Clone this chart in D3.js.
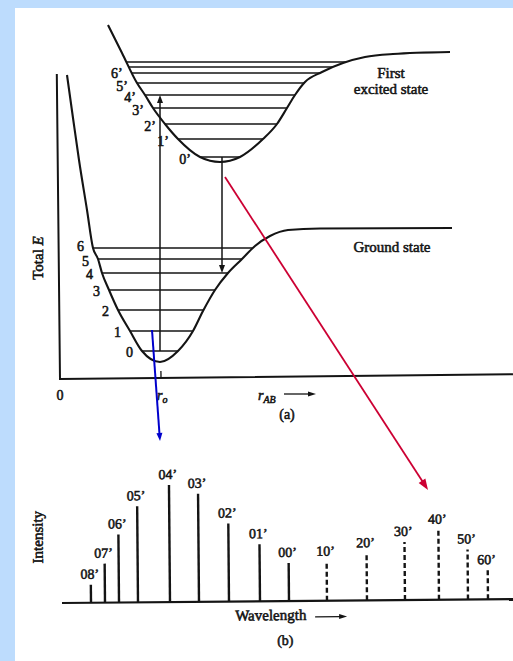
<!DOCTYPE html>
<html><head><meta charset="utf-8">
<script src="https://cdn.jsdelivr.net/npm/d3@7"></script>
<style>html,body{margin:0;padding:0;background:#bddcfd;overflow:hidden}</style>
</head><body>
<svg id="c" width="513" height="661"></svg>
<script>
// ---------- data (arbitrary units) ----------
// (a) potential energy curves: internuclear distance r, total energy E
const groundCurveR  = [7,13,19,27,33,38,42,49,58,70,82,100,118,133,143,155,168,182,195,210,228,260,392];
const groundCurveE  = [304,261,219,169,131,120,106,89,69,48,28,17,28,48,68,89,106,120,133,143,149,150.5,151];
const excitedCurveR = [48,62,77,85,93,105,118,140,160,180,203,217,227,235,245,262,283,305,333,390];
const excitedCurveE = [354,326,296,284,271,255,240,222,217,222,240,255,271,284,297,307,316,322,325,327];
const groundLevels  = [28,48,69,89,106,120,131];
const groundLabels  = ["0","1","2","3","4","5","6"];
const excitedLevels = [222,240,255,271,284,296,306,312,317];
const excitedLabels = ["0’","1’","2’","3’","4’","5’","6’","",""];
const absorptionR = 100, absorptionFrom = 28, absorptionTo = 284;
const emissionR = 162, emissionFrom = 222, emissionTo = 106;
const rZero = 101;
// (b) spectrum
const lineLabels  = ["08’","07’","06’","05’","04’","03’","02’","01’","00’","10’","20’","30’","40’","50’","60’"];
const linePos     = [29,43,57,76,108,137,167,198,227,265,305,343,377,406,426];
const lineInt     = [18,39,68,96,117,108,78,57,38,39,47,58,70,50,29];
const lineDashed  = [0,0,0,0,0,0,0,0,0,1,1,1,1,1,1];

// ---------- drawing ----------
const svg = d3.select("#c");
svg.append("rect").attr("width",513).attr("height",661).attr("fill","#bddcfd");
svg.append("rect").attr("x",15).attr("y",8).attr("width",498).attr("height",653).attr("fill","#ffffff");

const ink = "#141414";
const FONT = "'Liberation Serif','Times New Roman',serif";

function text(g, x, y, s, size, anchor) {
  return g.append("text").attr("x",x).attr("y",y).text(s)
    .attr("font-family",FONT).attr("font-size",size).attr("fill",ink)
    .attr("stroke",ink).attr("stroke-width",0.55)
    .attr("text-anchor",anchor||"start");
}
function arrow(g, x1, y1, x2, y2, color, w, hl, hw) {
  const a = Math.atan2(y2-y1, x2-x1);
  const bx = x2 - hl*Math.cos(a), by = y2 - hl*Math.sin(a);
  g.append("line").attr("x1",x1).attr("y1",y1).attr("x2",bx+Math.cos(a)).attr("y2",by+Math.sin(a))
    .attr("stroke",color).attr("stroke-width",w);
  const px = -Math.sin(a)*hw/2, py = Math.cos(a)*hw/2;
  g.append("path").attr("d",`M${x2},${y2}L${bx+px},${by+py}L${bx-px},${by-py}Z`).attr("fill",color);
}

// ----- panel (a)
const x = d3.scaleLinear().domain([0,453]).range([60,513]);
const y = d3.scaleLinear().domain([0,360]).range([379,19]);
const ga = svg.append("g");

const axes = ga.append("g").attr("transform",`rotate(-0.6,${x(0)},${y(0)})`);
axes.append("path").attr("d",`M${x(0)},${y(305)}V${y(0)}H${x(453)}`)
  .attr("fill","none").attr("stroke",ink).attr("stroke-width",2);
axes.append("line").attr("x1",x(rZero)).attr("x2",x(rZero)).attr("y1",y(0)).attr("y2",y(7))
  .attr("stroke",ink).attr("stroke-width",1.3);

const line = d3.line().x(d=>x(d[0])).y(d=>y(d[1])).curve(d3.curveMonotoneX);
const labelNudge = {"6":-3, "5":1, "6’":-2, "5’":1};

function drawWell(R, E, levels, labels, dyLab, gap) {
  const pts = R.map((r,i)=>[r,E[i]]);
  const p = ga.append("path").attr("d",line(pts)).attr("fill","none")
    .attr("stroke",ink).attr("stroke-width",2.1);
  const node = p.node(), L = node.getTotalLength();
  const samp = [];
  for (let s=0; s<=L; s+=0.5) { const q=node.getPointAtLength(s); samp.push([q.x,q.y]); }
  levels.forEach((lv,i)=>{
    const yy = y(lv); const xs=[];
    for (let k=1;k<samp.length;k++){
      const [x1,y1]=samp[k-1],[x2,y2]=samp[k];
      if ((yy-y1)*(yy-y2)<=0 && y1!==y2) xs.push(x1+(x2-x1)*(yy-y1)/(y2-y1));
    }
    const xl=d3.min(xs), xr=d3.max(xs);
    ga.append("line").attr("x1",xl).attr("x2",xr).attr("y1",yy).attr("y2",yy)
      .attr("stroke",ink).attr("stroke-width",1.7);
    if (labels[i]) text(ga, xl-gap, yy+dyLab+(labelNudge[labels[i]]||0), labels[i], 14, "end");
  });
}
drawWell(groundCurveR, groundCurveE, groundLevels, groundLabels, 6, 9);
drawWell(excitedCurveR, excitedCurveE, excitedLevels, excitedLabels, 7, 9);

arrow(ga, x(absorptionR), y(absorptionFrom), x(absorptionR), y(absorptionTo), ink, 1.5, 8, 6);
arrow(ga, x(emissionR), y(emissionFrom), x(emissionR), y(emissionTo), ink, 1.5, 8, 6);

text(ga, x(331), y(301), "First", 15, "middle");
text(ga, x(331), y(285), "excited state", 15, "middle");
text(ga, x(332), y(127), "Ground state", 15, "middle");
const te = text(ga, 0, 0, "Total ", 15, "middle")
  .attr("transform",`translate(${x(-22)},${y(121)}) rotate(-90)`).attr("dy","0.35em");
te.append("tspan").attr("font-style","italic").text("E");
text(ga, x(0), y(-21), "0", 14, "middle");
const ro = text(ga, x(97), y(-21), "r", 14, "start").attr("font-style","italic");
ro.append("tspan").attr("font-size",10).attr("dy",3).text("o");
const rab = text(ga, x(198), y(-21), "r", 14, "start").attr("font-style","italic");
rab.append("tspan").attr("font-size",10).attr("dy",3).text("AB");
arrow(ga, x(224), y(-15), x(256), y(-15), ink, 1.3, 8, 5);
text(ga, x(227), y(-40), "(a)", 14, "middle");

// ----- panel (b)
const xs = d3.scaleLinear().domain([0,451]).range([62,513]);
const ys = d3.scaleLinear().domain([0,200]).range([603,403]);
const gb = svg.append("g").attr("transform",`rotate(-0.5,${xs(0)},${ys(0)})`);
gb.append("line").attr("x1",xs(0)).attr("x2",xs(451)).attr("y1",ys(0)).attr("y2",ys(0))
  .attr("stroke",ink).attr("stroke-width",2.2);
lineLabels.forEach((lab,i)=>{
  gb.append("line").attr("x1",xs(linePos[i])).attr("x2",xs(linePos[i]))
    .attr("y1",ys(0)).attr("y2",ys(lineInt[i]))
    .attr("stroke",ink).attr("stroke-width",2.4)
    .attr("stroke-dasharray",lineDashed[i]?"5,3":null);
  text(gb, xs(linePos[i])-1, ys(lineInt[i])-6, lab, 14, "middle");
});
text(gb, 0, 0, "Intensity", 15, "middle")
  .attr("transform",`translate(${xs(-24)},${ys(66)}) rotate(-90)`).attr("dy","0.35em");
text(gb, xs(173), ys(-19), "Wavelength", 15, "start");
arrow(gb, xs(253), ys(-16), xs(285), ys(-16), ink, 1.3, 8, 5);
text(gb, xs(223), ys(-44), "(b)", 14, "middle");

// ----- connecting arrows
arrow(svg, x(165), y(202), xs(366), ys(113), "#cc0033", 1.8, 11, 8);
arrow(svg, x(92), y(49), xs(98), ys(162), "#0000cc", 2, 8, 6);
</script>
</body></html>
